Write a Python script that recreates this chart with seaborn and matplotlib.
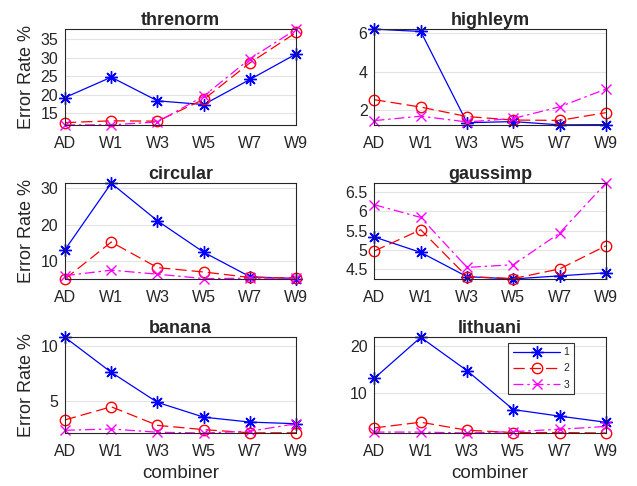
import pandas as pd
import matplotlib
matplotlib.use("Agg")
import matplotlib.pyplot as plt
import seaborn as sns

combiners = ["AD", "W1", "W3", "W5", "W7", "W9"]
datasets = ["threnorm", "highleym", "circular", "gaussimp", "banana", "lithuani"]

# error rates per dataset, series 1 / 2 / 3
threnorm_1 = [19.2, 24.7, 18.3, 17.3, 24.1, 31.0]
threnorm_2 = [12.4, 12.9, 12.8, 18.7, 28.6, 36.8]
threnorm_3 = [11.8, 11.8, 12.6, 19.6, 29.7, 37.7]

highleym_1 = [6.2, 6.08, 1.36, 1.42, 1.25, 1.26]
highleym_2 = [2.55, 2.17, 1.68, 1.5, 1.48, 1.88]
highleym_3 = [1.47, 1.7, 1.4, 1.58, 2.18, 3.1]

circular_1 = [13.2, 31.4, 21.1, 12.5, 5.8, 5.3]
circular_2 = [5.2, 15.3, 8.3, 7.1, 5.6, 5.5]
circular_3 = [6.1, 7.6, 6.5, 5.3, 5.4, 5.4]

gaussimp_1 = [5.33, 4.93, 4.3, 4.24, 4.32, 4.4]
gaussimp_2 = [4.97, 5.52, 4.3, 4.25, 4.5, 5.1]
gaussimp_3 = [6.17, 5.84, 4.54, 4.61, 5.43, 6.73]

banana_1 = [10.8, 7.6, 4.85, 3.5, 3.05, 2.9]
banana_2 = [3.25, 4.45, 2.75, 2.36, 2.07, 2.07]
banana_3 = [2.3, 2.42, 2.12, 2.05, 2.22, 2.9]

lithuani_1 = [13.2, 21.9, 14.8, 6.5, 5.1, 3.8]
lithuani_2 = [2.6, 3.8, 2.1, 1.6, 1.6, 1.5]
lithuani_3 = [1.7, 1.7, 1.5, 1.8, 2.3, 2.9]

values = {
    "threnorm": [threnorm_1, threnorm_2, threnorm_3],
    "highleym": [highleym_1, highleym_2, highleym_3],
    "circular": [circular_1, circular_2, circular_3],
    "gaussimp": [gaussimp_1, gaussimp_2, gaussimp_3],
    "banana": [banana_1, banana_2, banana_3],
    "lithuani": [lithuani_1, lithuani_2, lithuani_3],
}
yticks = {
    "threnorm": [15, 20, 25, 30, 35],
    "highleym": [2, 4, 6],
    "circular": [10, 20, 30],
    "gaussimp": [4.5, 5, 5.5, 6, 6.5],
    "banana": [5, 10],
    "lithuani": [10, 20],
}
series_labels = ["1", "2", "3"]

styles = [
    dict(color="#0000ff", marker=(8, 2, 0), linestyle="-", markersize=9,
         markeredgecolor="#0000ff"),
    dict(color="#ff0000", marker="o", linestyle=(0, (9, 4)), markersize=7.5,
         markerfacecolor="none", markeredgecolor="#ff0000"),
    dict(color="#ff00ff", marker="x", linestyle=(0, (8, 3, 2, 3)), markersize=7,
         markeredgecolor="#ff00ff"),
]

sns.set_style("white")
plt.rcParams["font.family"] = ["Liberation Sans", "DejaVu Sans"]

fig, axes = plt.subplots(3, 2, figsize=(6.37, 4.86), dpi=100)
fig.subplots_adjust(left=0.102, right=0.951, bottom=0.109, top=0.940,
                    wspace=0.338, hspace=0.61)

for ax, name in zip(axes.flat, datasets):
    rows = []
    for lab, vals in zip(series_labels, values[name]):
        for c, v in zip(combiners, vals):
            rows.append({"combiner": c, "err": v, "series": lab})
    df = pd.DataFrame(rows)
    for lab, st in zip(series_labels, styles):
        sub = df[df["series"] == lab]
        sns.lineplot(data=sub, x="combiner", y="err", ax=ax, label=lab,
                     linewidth=0.9, markeredgewidth=1.0, clip_on=False, **st)
    allv = df["err"]
    ax.set_xlim(0, len(combiners) - 1)
    ax.set_ylim(allv.min(), allv.max())
    ax.set_yticks(yticks[name])
    ax.set_yticklabels([f"{t:g}" for t in yticks[name]])
    ax.yaxis.grid(True, color="#e3e3e3", linewidth=0.8)
    ax.set_axisbelow(True)
    for sp in ax.spines.values():
        sp.set_visible(True)
        sp.set_color("#262626")
        sp.set_linewidth(0.8)
    ax.tick_params(axis="both", direction="in", length=2, labelsize=11.5,
                   colors="#262626")
    ax.tick_params(axis="x", pad=8)
    ax.tick_params(axis="y", pad=5)
    ax.set_title(name, fontsize=13, fontweight="bold", pad=3)
    ax.set_xlabel("")
    ax.set_ylabel("")
    if ax.get_legend() is not None:
        ax.get_legend().remove()

for ax in axes[:, 0]:
    ax.set_ylabel("Error Rate %", fontsize=13, color="#262626", labelpad=4)
for ax in axes[2, :]:
    ax.set_xlabel("combiner", fontsize=13.5, color="#262626")

leg = axes[2, 1].legend(loc="upper right", bbox_to_anchor=(0.884, 1.0),
                        fontsize=7.5, handlelength=4.5, frameon=True,
                        fancybox=False, borderpad=0.45, labelspacing=0.6,
                        handletextpad=0.3)
leg.get_frame().set_edgecolor("black")
leg.get_frame().set_linewidth(0.8)

plt.savefig("out.png", dpi=100)
